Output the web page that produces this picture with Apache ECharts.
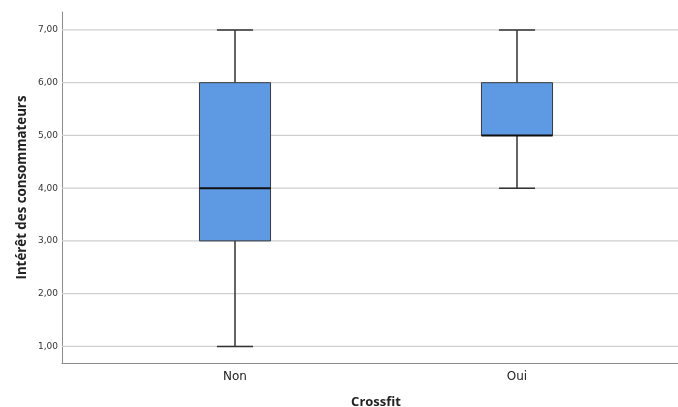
<!DOCTYPE html>
<html><head><meta charset="utf-8">
<script src="https://cdn.jsdelivr.net/npm/echarts@6/dist/echarts.min.js"></script>
<style>html,body{margin:0;padding:0;background:#fff}#c{width:678px;height:407px}</style>
</head><body><div id="c"></div>
<script>
const categories = ['Non', 'Oui'];
const mins = [1, 4];
const q1s = [3, 5];
const medians = [4, 5];
const q3s = [6, 6];
const maxs = [7, 7];
const yTicks = [1, 2, 3, 4, 5, 6, 7];

const yMin = 0.685, yMax = 7.34;
const data = categories.map((c, i) => [i, mins[i], q1s[i], medians[i], q3s[i], maxs[i]]);

const chart = echarts.init(document.getElementById('c'));
chart.setOption({
  animation: false,
  grid: [
    { left: 62, right: 0, top: 12, bottom: 44, containLabel: false, outerBoundsMode: 'none' },
    { left: 94, right: 20, top: 12, bottom: 44, containLabel: false, outerBoundsMode: 'none' }
  ],
  xAxis: [
    { gridIndex: 0, type: 'value', min: 0, max: 1, axisLine: { show: true, lineStyle: { color: '#8c8c8c', width: 1 } },
      axisTick: { show: false }, axisLabel: { show: false }, splitLine: { show: false } },
    { gridIndex: 1, type: 'category', data: categories, boundaryGap: true,
      axisLine: { show: false }, axisTick: { show: false },
      axisLabel: { color: '#222', fontSize: 12, fontFamily: 'DejaVu Sans', margin: 8 },
      name: 'Crossfit', nameLocation: 'middle', nameGap: 33,
      nameTextStyle: { fontWeight: 'bold', fontSize: 13, color: '#222', fontFamily: 'Open Sans' } }
  ],
  yAxis: [
    { gridIndex: 0, type: 'value', min: yMin, max: yMax,
      axisLine: { show: true, lineStyle: { color: '#8c8c8c', width: 1 } },
      axisTick: { show: false },
      axisLabel: { show: false },
      splitLine: { show: false },
      name: 'Intérêt des consommateurs', nameLocation: 'middle', nameGap: 33, nameRotate: 90,
      nameTextStyle: { fontWeight: 'bold', fontSize: 13.3, color: '#222', fontFamily: 'Open Sans' } },
    { gridIndex: 1, type: 'value', min: yMin, max: yMax, show: false }
  ],
  series: [
    { type: 'custom', xAxisIndex: 0, yAxisIndex: 0, silent: true, z: 1,
      data: yTicks.map(v => [v]),
      renderItem: function (params, api) {
        const v = api.value(0);
        const p = api.coord([0, v]);
        const q = api.coord([1, v]);
        return { type: 'group', children: [
          { type: 'line', shape: { x1: p[0], y1: p[1], x2: q[0], y2: q[1] }, style: { stroke: '#cfcfcf', lineWidth: 1.2 } },
          { type: 'text', style: { text: v.toFixed(2).replace('.', ','), x: p[0] - 4, y: p[1], align: 'right', verticalAlign: 'middle', fontSize: 9, fill: '#333', fontFamily: 'DejaVu Sans' } }
        ] };
      }
    },
    { type: 'custom', xAxisIndex: 1, yAxisIndex: 1, z: 3,
      data: data,
      renderItem: function (params, api) {
        const x = api.value(0);
        const band = api.size([1, 0])[0];
        const bw = band * 0.252;
        const cw = band * 0.064;
        const pMin = api.coord([x, api.value(1)]);
        const pQ1 = api.coord([x, api.value(2)]);
        const pMed = api.coord([x, api.value(3)]);
        const pQ3 = api.coord([x, api.value(4)]);
        const pMax = api.coord([x, api.value(5)]);
        const cx = pMin[0];
        const wl = { stroke: '#333', lineWidth: 1.5 };
        return { type: 'group', children: [
          { type: 'line', shape: { x1: cx, y1: pMax[1], x2: cx, y2: pQ3[1] }, style: wl },
          { type: 'line', shape: { x1: cx, y1: pQ1[1], x2: cx, y2: pMin[1] }, style: wl },
          { type: 'line', shape: { x1: cx - cw, y1: pMax[1], x2: cx + cw, y2: pMax[1] }, style: wl },
          { type: 'line', shape: { x1: cx - cw, y1: pMin[1], x2: cx + cw, y2: pMin[1] }, style: wl },
          { type: 'rect', shape: { x: cx - bw / 2, y: pQ3[1], width: bw, height: pQ1[1] - pQ3[1] },
            style: { fill: '#5e9ae4', stroke: '#3a3a3a', lineWidth: 1 } },
          { type: 'line', shape: { x1: cx - bw / 2, y1: pMed[1], x2: cx + bw / 2, y2: pMed[1] }, style: { stroke: '#111', lineWidth: 2 } }
        ] };
      }
    }
  ]
});
</script></body></html>
